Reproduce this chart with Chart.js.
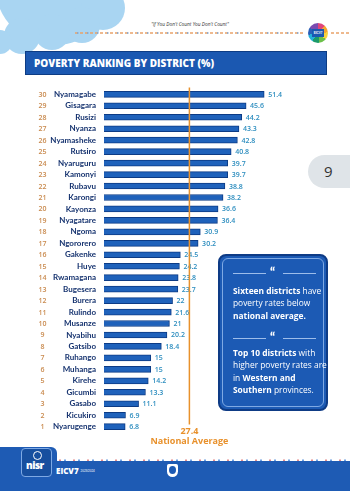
<!DOCTYPE html>
<html>
<head>
<meta charset="utf-8">
<script src="https://cdn.jsdelivr.net/npm/chart.js@4.4.1/dist/chart.umd.min.js"></script>
<style>
  html, body { margin: 0; padding: 0; background: #fff; }
  #page { position: relative; width: 350px; height: 491px; overflow: hidden; font-family: "Open Sans", sans-serif; }
  #deco { position: absolute; left: 0; top: 0; }
  #chartBox { position: absolute; left: 0; top: 0; width: 350px; height: 491px; }
  .banner { position: absolute; left: 25px; top: 51px; width: 302px; height: 24px; background: #1b58b1;
    border: 1px solid #0d3c84; box-sizing: border-box; }
  .banner span { position: absolute; left: 8px; top: 4px; color: #fff; font: 800 10px "Open Sans", sans-serif; }
  .tab { position: absolute; left: 308px; top: 155px; width: 50px; height: 33px; background: #dfe4e8; border-radius: 17px 0 0 17px; }
  .tab span { position: absolute; left: 16px; top: 6px; font: 15px "Open Sans", sans-serif; color: #333; }
  .note { position: absolute; left: 218px; top: 254px; width: 110px; height: 157px; background: #1c5ab4;
    border: 2px solid #0e3b85; border-radius: 8px; box-sizing: border-box; }
  .note .inner { position: absolute; left: 2px; top: 2px; right: 2px; bottom: 2px; border: 1px solid #7ea9e4; border-radius: 6px; }
  .note p { position: absolute; left: 13px; margin: 0; color: #fff; font: 8.4px/12.3px "Open Sans", sans-serif; width: 96px; }
  .note b { font-weight: 700; }
  .div { position: absolute; left: 13px; width: 83px; height: 8px; }
  .div i { position: absolute; top: 4px; height: 1px; background: #9dbdea; }
  .div em { position: absolute; left: 37px; top: -3px; color: #fff; font: 900 13px/13px Lato, sans-serif; font-style: normal; }
  .quote { position: absolute; left: 130px; top: 21px; width: 120px; text-align: center; font: italic 4.8px "Open Sans", sans-serif; color: #333; }
  .logo { position: absolute; left: 308px; top: 23px; width: 20px; height: 20px; border-radius: 50%;
    background: conic-gradient(#e0457b 0 12%, #f3a530 0 24%, #f7d23e 0 36%, #6cc04a 0 48%, #1c9a6a 0 60%, #23b0d8 0 72%, #2a5fb8 0 84%, #7a4ab0 0 100%); }
  .logo div { position: absolute; left: 4px; top: 6px; width: 12px; height: 8px; background: #1b58b1; color: #fff; font: 700 3px/8px sans-serif; text-align: center; }
  .footer { position: absolute; left: 0; top: 461px; width: 350px; height: 30px; background: #1e5bb4; }
  .footLeft { position: absolute; left: 0; top: 447px; width: 57px; height: 20px; background: #1e5bb4; border-radius: 0 6px 0 0; }
  .nisr { position: absolute; left: 21px; top: 448px; width: 31px; height: 29px; border: 1px solid #7ea9e4; border-radius: 4px; background: #174f9f; box-sizing: border-box; }
  .nisr b { position: absolute; left: 4px; top: 11px; color: #fff; font: 900 10px/10px "Open Sans", sans-serif; letter-spacing: -0.5px; }
  .nisr i { position: absolute; left: 11px; top: 2px; width: 7px; height: 7px; border: 1.5px solid #fff; border-radius: 50%; }
  .eicv { position: absolute; left: 56px; top: 465px; color: #fff; font: 800 8px "Open Sans", sans-serif; }
  .eicv small { font: 3px sans-serif; margin-left: 2px; vertical-align: 2px; }
  .shield { position: absolute; left: 167px; top: 464px; width: 11px; height: 13px; background: #fff; border-radius: 2px 2px 6px 6px; }
  .shield i { position: absolute; left: 2px; top: 2px; width: 7px; height: 8px; background: #1e5bb4; border-radius: 50%; }
</style>
</head>
<body>
<div id="page">
  <svg id="deco" width="350" height="491">
    <g fill="#a9d5f2">
      <circle cx="55" cy="-15" r="60"/>
      <circle cx="103" cy="8" r="22"/>
      <circle cx="82" cy="25" r="18"/>
      <circle cx="52" cy="32" r="18"/>
      <circle cx="22" cy="36" r="18"/>
      <circle cx="0" cy="42" r="12"/>
    </g>
    <line x1="75" y1="33" x2="305" y2="33" stroke="#e9a36a" stroke-width="1.5" stroke-dasharray="3 2"/>
    <line x1="77" y1="33" x2="305" y2="33" stroke="#7aa7d8" stroke-width="1.5" stroke-dasharray="1.5 8.5"/>
    <line x1="331" y1="33" x2="350" y2="33" stroke="#e9a36a" stroke-width="1.5" stroke-dasharray="3 2"/>
    <line x1="57" y1="460.5" x2="350" y2="460.5" stroke="#ffffff" stroke-width="2" stroke-dasharray="2 1.5"/>
    <line x1="59" y1="460.5" x2="350" y2="460.5" stroke="#e58a8a" stroke-width="2" stroke-dasharray="2 12"/>
    <line x1="64" y1="460.5" x2="350" y2="460.5" stroke="#6fa0e0" stroke-width="2" stroke-dasharray="2 12"/>
  </svg>
  <div class="quote">"If You Don't Count You Don't Count"</div>
  <div class="logo"><div>EICV7</div></div>
  <div class="banner"><span>POVERTY RANKING BY DISTRICT (%)</span></div>
  <div class="tab"><span>9</span></div>
  <div class="footer"></div>
  <div class="footLeft"></div>
  <div class="nisr"><i></i><b>nisr</b></div>
  <div class="eicv">EICV7<small>2023/2024</small></div>
  <div class="shield"><i></i></div>
  <div id="chartBox"><canvas id="myChart"></canvas></div>
  <div class="note">
    <div class="inner"></div>
    <div class="div" style="top:13px"><i style="left:0;width:33px"></i><em>&#8220;</em><i style="left:50px;width:33px"></i></div>
    <p style="top:29px"><b>Sixteen districts</b> have poverty rates below <b>national average.</b></p>
    <div class="div" style="top:78px"><i style="left:0;width:33px"></i><em>&#8220;</em><i style="left:50px;width:33px"></i></div>
    <p style="top:91px"><b>Top 10 districts</b> with higher poverty rates are in <b>Western and Southern</b> provinces.</p>
  </div>
</div>
<script>
  //Chart data
  var ranks = [30,29,28,27,26,25,24,23,22,21,20,19,18,17,16,15,14,13,12,11,10,9,8,7,6,5,4,3,2,1];
  var districts = ["Nyamagabe","Gisagara","Rusizi","Nyanza","Nyamasheke","Rutsiro","Nyaruguru","Kamonyi",
    "Rubavu","Karongi","Kayonza","Nyagatare","Ngoma","Ngororero","Gakenke","Huye","Rwamagana","Bugesera",
    "Burera","Rulindo","Musanze","Nyabihu","Gatsibo","Ruhango","Muhanga","Kirehe","Gicumbi","Gasabo",
    "Kicukiro","Nyarugenge"];
  var poverty = [51.4,45.6,44.2,43.3,42.8,40.8,39.7,39.7,38.8,38.2,36.6,36.4,30.9,30.2,24.5,24.2,23.8,23.7,
    22,21.6,21,20.2,18.4,15,15,14.2,13.3,11.1,6.9,6.8];
  var nationalAverage = 27.4;

  //Rank numbers, value labels and national average line
  var extras = {
    id: 'extras',
    afterDatasetsDraw: function(chart){
      var ctx = chart.ctx;
      var y = chart.scales.y;
      var x = chart.scales.x;
      ctx.save();
      ctx.textBaseline = 'middle';
      ctx.font = '600 7px "Open Sans"';
      ctx.fillStyle = '#c98a4e';
      ctx.textAlign = 'center';
      ranks.forEach(function(r, i){
        ctx.fillText(String(r), 42.5, y.getPixelForValue(i) + 0.5);
      });
      ctx.font = '600 7px "Open Sans"';
      ctx.fillStyle = '#2c8dbf';
      ctx.textAlign = 'left';
      chart.getDatasetMeta(0).data.forEach(function(bar, i){
        ctx.fillText(String(poverty[i]), bar.x + 4, bar.y + 0.5);
      });
      var ax = x.getPixelForValue(nationalAverage);
      ctx.strokeStyle = '#e8912c';
      ctx.lineWidth = 1.5;
      ctx.beginPath();
      ctx.moveTo(ax, chart.chartArea.top - 1);
      ctx.lineTo(ax, chart.chartArea.bottom - 8);
      ctx.stroke();
      ctx.fillStyle = '#e8912c';
      ctx.textAlign = 'center';
      ctx.font = '700 9px "Open Sans"';
      ctx.fillText(String(nationalAverage), ax, chart.chartArea.bottom - 1);
      ctx.fillText('National Average', ax, chart.chartArea.bottom + 9);
      ctx.restore();
    }
  };

  var ctx = document.getElementById("myChart").getContext("2d");
  var myChart = new Chart(ctx, {
    type: 'bar',
    data: {
      labels: districts,
      datasets: [{
        data: poverty,
        backgroundColor: '#1f62bb',
        borderColor: '#0c3b85',
        borderWidth: 1,
        barThickness: 6
      }]
    },
    options: {
      indexAxis: 'y',
      responsive: true,
      maintainAspectRatio: false,
      animation: false,
      layout: { padding: { left: 20, right: 59, top: 88.6, bottom: 58.6 } },
      plugins: { legend: { display: false }, tooltip: { enabled: false } },
      scales: {
        x: { display: false, min: 0, max: 60 },
        y: {
          afterFit: function(s){ s.width = 84; },
          grid: { display: false, drawTicks: false },
          border: { display: false },
          ticks: { autoSkip: false, padding: 8, color: '#16336f', font: { family: 'Lato', size: 8, weight: '700' } }
        }
      }
    },
    plugins: [extras]
  });
</script>
</body>
</html>
